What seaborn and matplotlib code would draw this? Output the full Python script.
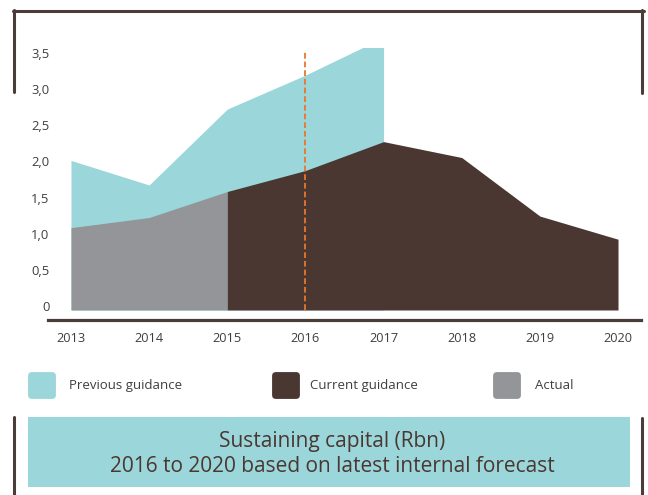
import matplotlib
matplotlib.use("Agg")
import matplotlib.pyplot as plt
from matplotlib.lines import Line2D
from matplotlib.patches import FancyBboxPatch, Rectangle
from matplotlib.transforms import ScaledTranslation
import seaborn as sns
import pandas as pd

# Sustaining capital (Rbn)
years_prev = [2013, 2014, 2015, 2016, 2017]
previous_guidance = [2.0, 1.66, 2.71, 3.18, 3.70]

years_actual = [2013, 2014, 2015]
actual = [1.07, 1.21, 1.57]

years_curr = [2015, 2016, 2017, 2018, 2019, 2020]
current_guidance = [1.57, 1.86, 2.26, 2.04, 1.23, 0.91]

year_ticks = [2013, 2014, 2015, 2016, 2017, 2018, 2019, 2020]
value_ticks = [0, 0.5, 1.0, 1.5, 2.0, 2.5, 3.0, 3.5]
value_labels = ["0", "0,5", "1,0", "1,5", "2,0", "2,5", "3,0", "3,5"]

legend_labels = ["Previous guidance", "Current guidance", "Actual"]
title_lines = ["Sustaining capital (Rbn)", "2016 to 2020 based on latest internal forecast"]

TEAL = "#9bd6da"
BROWN = "#4a3731"
GREY = "#939598"
ORANGE = "#e8772e"
TEXT = "#3f3f3f"
FRAME = "#4a3c38"

sns.set_theme(style="white")
plt.rcParams["font.family"] = ["Open Sans", "DejaVu Sans"]

W, H = 648, 495
fig = plt.figure(figsize=(W / 100, H / 100), dpi=100)


def fx(x):
    return x / W


def fy(y):
    return 1 - y / H


ax = fig.add_axes([fx(48), fy(320), fx(641) - fx(48), fy(48) - fy(320)])
ymin, ymax = -0.2075, 3.555
base = -0.069
ax.set_xlim(2012.706, 2020.294)
ax.set_ylim(ymin, ymax)

df_prev = pd.DataFrame({"year": years_prev, "value": previous_guidance})
df_act = pd.DataFrame({"year": years_actual, "value": actual})
df_cur = pd.DataFrame({"year": years_curr, "value": current_guidance})

for df, col in [(df_prev, TEAL), (df_act, GREY), (df_cur, BROWN)]:
    sns.lineplot(data=df, x="year", y="value", ax=ax, color=col, linewidth=0)
    ax.fill_between(df["year"], df["value"], base, color=col, linewidth=0, zorder=2)

ax.vlines(2016, base, 3.5, colors=ORANGE, linewidth=1.3,
          linestyles=(0, (3.2, 1.6)), zorder=4)

ax.set_xlabel("")
ax.set_ylabel("")
ax.set_xticks(year_ticks)
ax.set_xticklabels([str(y) for y in year_ticks])
ax.set_yticks(value_ticks)
ax.set_yticklabels(value_labels)
ax.tick_params(axis="x", length=0, pad=8.5, labelsize=9.2, labelcolor=TEXT)
ax.tick_params(axis="y", length=0, pad=-1.0, labelsize=9.4, labelcolor=TEXT)
shift = ScaledTranslation(0, -1 / 100, fig.dpi_scale_trans)
for lbl in ax.get_yticklabels():
    lbl.set_transform(lbl.get_transform() + shift)

for s in ["left", "right", "top"]:
    ax.spines[s].set_visible(False)
ax.spines["bottom"].set_color(FRAME)
ax.spines["bottom"].set_linewidth(2.3)
ax.patch.set_alpha(0)

# top bracket frame
lw = 2.2
fig.add_artist(Line2D([fx(12.5), fx(643.5)], [fy(10.5), fy(10.5)], color=FRAME, lw=lw))
fig.add_artist(Line2D([fx(13.5), fx(13.5)], [fy(9.5), fy(92)], color=FRAME, lw=lw))
fig.add_artist(Line2D([fx(642.3), fx(642.3)], [fy(9.5), fy(93)], color=FRAME, lw=lw))

# legend
legend_items = [(28, 69, TEAL), (272, 310, BROWN), (493, 535, GREY)]
for (sx, tx, col), lab in zip(legend_items, legend_labels):
    fig.add_artist(FancyBboxPatch((fx(sx + 3), fy(399 - 3)), fx(22), fy(0) - fy(21),
                                  boxstyle="round,pad=0.0045,rounding_size=0.006",
                                  transform=fig.transFigure, facecolor=col,
                                  edgecolor="none", mutation_aspect=W / H))
    fig.text(fx(tx), fy(385.5), lab, ha="left", va="center", fontsize=9.5, color=TEXT)

# title box with bottom bracket
fig.add_artist(Rectangle((fx(28), fy(487)), fx(630) - fx(28), fy(417) - fy(487),
                         transform=fig.transFigure, facecolor=TEAL, edgecolor="none"))
fig.add_artist(Line2D([fx(14), fx(14)], [fy(417), fy(495)], color=FRAME, lw=lw))
fig.add_artist(Line2D([fx(641.8), fx(641.8)], [fy(418), fy(495)], color=FRAME, lw=lw))
fig.text(fx(332), fy(442), title_lines[0], ha="center", va="center",
         fontsize=15, color=BROWN)
fig.text(fx(332), fy(466), title_lines[1], ha="center", va="center",
         fontsize=15, color=BROWN)

fig.savefig("out.png", dpi=100)
